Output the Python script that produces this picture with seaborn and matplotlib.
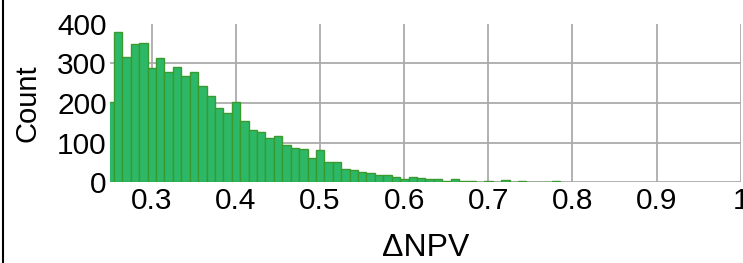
import numpy as np
import pandas as pd
import matplotlib
matplotlib.use("Agg")
import matplotlib.pyplot as plt
from matplotlib.lines import Line2D
import seaborn as sns

# --- Data ---
# counts per bin, first bin starts at BIN_START, each bin BIN_WIDTH wide
BIN_START = 0.2452
BIN_WIDTH = 0.01
counts = [203, 380, 315, 349, 351, 287, 314, 277, 290, 268,
          277, 244, 217, 187, 174, 202, 154, 132, 127, 111,
          116, 93, 86, 85, 61, 81, 51, 51, 35, 31,
          27, 23, 19, 19, 13, 9, 13, 10, 9, 8,
          4, 8, 4, 4, 1, 4, 1, 5, 1, 4,
          1, 1, 1, 4]
x_ticks = [0.3, 0.4, 0.5, 0.6, 0.7, 0.8, 0.9, 1.0]
x_ticklabels = ["0.3", "0.4", "0.5", "0.6", "0.7", "0.8", "0.9", "1"]
y_ticks = [0, 100, 200, 300, 400]

edges = (BIN_START + BIN_WIDTH * np.arange(len(counts) + 1)).tolist()
centers = [(a + b) / 2 for a, b in zip(edges[:-1], edges[1:])]
df = pd.DataFrame({"dnpv": centers, "count": counts})

# --- Style ---
sns.set_theme(style="whitegrid")
plt.rcParams["font.family"] = ["Liberation Sans", "DejaVu Sans"]
plt.rcParams["grid.color"] = "#ababab"
plt.rcParams["grid.linewidth"] = 1.3

fig = plt.figure(figsize=(7.43, 2.63), dpi=100)
ax = fig.add_axes([109.6 / 743, (263 - 182.4) / 263,
                   (740.8 - 109.6) / 743, (182.4 - 23.6) / 263])

sns.histplot(data=df, x="dnpv", weights="count", bins=edges,
             color="#2cb866", edgecolor="#3a9a2e", linewidth=1,
             alpha=1, ax=ax)

ax.set_xlim(0.25, 1.0)
ax.set_ylim(0, 400)
ax.set_xticks(x_ticks)
ax.set_xticklabels(x_ticklabels)
ax.set_yticks(y_ticks)
ax.tick_params(axis="x", length=0, pad=3, labelsize=21.5, colors="black")
ax.tick_params(axis="y", length=0, pad=2, labelsize=21.5, colors="black")
ax.set_xlabel("\u0394NPV", fontsize=23, labelpad=13.5, color="black")
ax.set_ylabel("Count", fontsize=21, labelpad=11, color="black")
for s in ax.spines.values():
    s.set_visible(False)
# top gridline is not drawn in the reference
ax.yaxis.get_gridlines()[-1].set_visible(False)

# thin black frame edge on the far left
fig.add_artist(Line2D([2.5 / 743, 2.5 / 743], [0, 1], color="black",
                      linewidth=1.5, transform=fig.transFigure))

fig.savefig("out.png", dpi=100)
